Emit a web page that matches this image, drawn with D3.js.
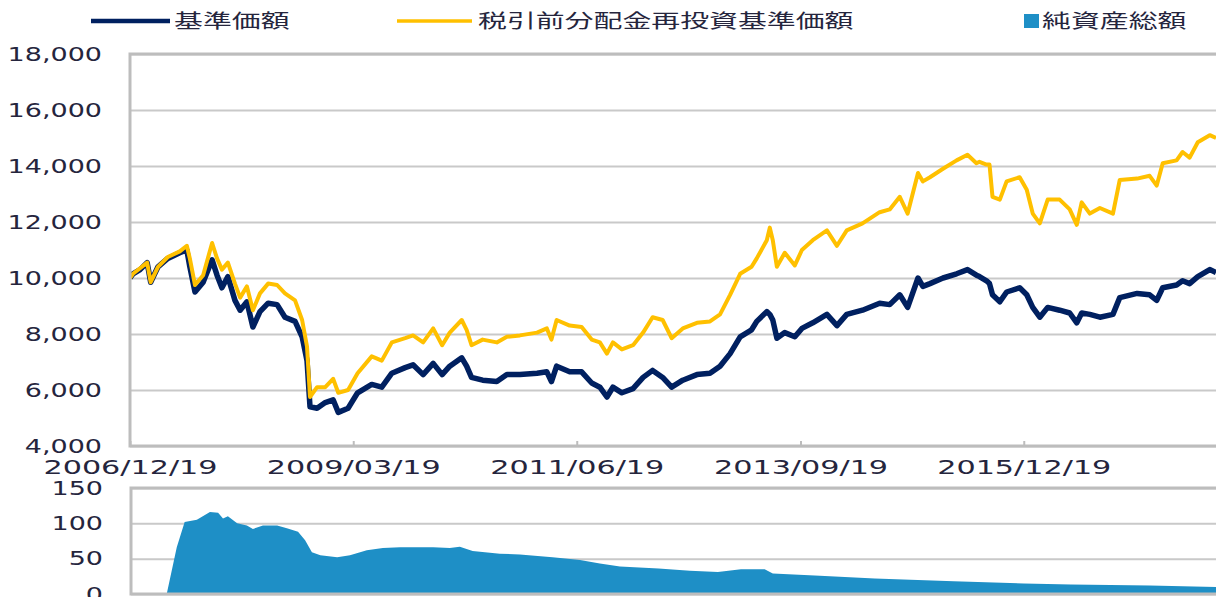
<!DOCTYPE html>
<html lang="ja">
<head>
<meta charset="UTF-8">
<title>基準価額・純資産総額の推移</title>
<style>
    body { margin: 0; background: #fff; }
    svg { display: block; font-family: 'DejaVu Sans', Verdana, sans-serif; }
    .legend text { font-family: 'Noto Sans CJK JP', sans-serif; }
</style>
</head>
<body>
<div id="chart"></div>
<script src="https://d3js.org/d3.v7.min.js"></script>
<script>
// 基準価額 / 税引前分配金再投資基準価額 (円)
const dates = [
    '2006/12/19','2006/12/30','2007/01/25','2007/02/20','2007/03/05','2007/04/01','2007/05/07','2007/06/20','2007/07/16','2007/07/27',
    '2007/08/15','2007/09/14','2007/10/17','2007/11/04','2007/11/22','2007/12/14','2008/01/09','2008/01/28','2008/02/22','2008/03/15',
    '2008/04/10','2008/05/10','2008/06/12','2008/07/11','2008/08/17','2008/09/12','2008/09/30','2008/10/11','2008/11/06','2008/12/06',
    '2009/01/04','2009/01/23','2009/02/28','2009/04/04','2009/05/26','2009/07/02','2009/08/08','2009/09/26','2009/10/25','2009/12/01',
    '2010/01/07','2010/02/09','2010/03/09','2010/04/22','2010/05/10','2010/05/28','2010/07/08','2010/08/29','2010/10/05','2010/11/22',
    '2011/01/24','2011/03/01','2011/03/18','2011/04/06','2011/05/24','2011/07/07','2011/08/13','2011/09/12','2011/10/08','2011/10/30',
    '2011/12/02','2012/01/12','2012/02/18','2012/03/24','2012/04/30','2012/06/02','2012/07/13','2012/09/03','2012/10/21','2012/11/27',
    '2013/01/03','2013/02/09','2013/03/23','2013/04/11','2013/05/18','2013/05/29','2013/06/09','2013/06/24','2013/07/23','2013/08/29',
    '2013/09/24','2013/11/03','2013/12/25','2014/01/31','2014/03/08','2014/05/05','2014/07/07','2014/08/13','2014/09/19','2014/10/18',
    '2014/11/25','2014/12/13','2015/01/08','2015/02/25','2015/04/16','2015/05/26','2015/06/28','2015/07/09','2015/08/04','2015/08/15',
    '2015/08/26','2015/09/22','2015/10/17','2015/12/04','2015/12/30','2016/01/21','2016/02/16','2016/03/16','2016/04/29','2016/06/05',
    '2016/07/01','2016/07/19','2016/08/18','2016/09/24','2016/11/11','2016/12/06','2017/02/08','2017/03/26','2017/04/21','2017/05/13',
    '2017/07/03','2017/07/25','2017/08/20','2017/09/19','2017/11/02','2017/11/25'
];
const navValues = [
    10000,10150,10300,10550,9850,10400,10700,10900,11000,10400,
    9500,9850,10650,10100,9650,10050,9200,8850,9150,8250,
    8800,9100,9050,8600,8450,7900,7050,5400,5350,5550,
    5650,5200,5350,5900,6200,6100,6600,6800,6900,6550,
    6950,6550,6850,7150,6850,6450,6350,6300,6550,6550,
    6600,6650,6300,6850,6650,6650,6250,6100,5750,6100,
    5900,6050,6450,6700,6450,6100,6350,6550,6600,6850,
    7300,7900,8150,8450,8800,8700,8500,7850,8050,7900,
    8200,8400,8700,8300,8700,8850,9100,9050,9400,8950,
    10000,9700,9800,10000,10150,10300,10100,10050,9900,9800,
    9400,9150,9500,9650,9400,8950,8600,8950,8850,8750,
    8400,8750,8700,8600,8700,9300,9450,9400,9200,9650,
    9750,9900,9800,10050,10300,10200
];
const reinvestValues = [
    10000,10150,10350,10550,9850,10400,10750,10950,11150,10700,
    9750,10100,11250,10700,10300,10550,9800,9300,9700,8850,
    9450,9800,9750,9450,9200,8500,7550,5750,6100,6100,
    6400,5900,6000,6600,7200,7050,7700,7850,7950,7700,
    8200,7600,8050,8500,8150,7600,7800,7700,7900,7950,
    8050,8200,7800,8500,8300,8250,7800,7700,7300,7700,
    7450,7600,8050,8600,8500,7850,8200,8400,8450,8700,
    9400,10150,10400,10700,11350,11800,11350,10400,10900,10450,
    11000,11350,11700,11150,11700,11950,12350,12450,12900,12300,
    13750,13450,13600,13900,14200,14400,14100,14150,14050,14050,
    12900,12800,13450,13600,13150,12300,11950,12800,12800,12450,
    11900,12700,12300,12500,12300,13500,13550,13650,13300,14100,
    14200,14500,14300,14850,15100,15000
];

// 純資産総額 (億円)
const assetDates = [
    '2007/05/03','2007/06/09','2007/07/08','2007/08/22','2007/10/09','2007/11/08','2007/11/26','2007/12/14','2008/01/17','2008/02/22',
    '2008/03/15','2008/04/21','2008/06/12','2008/07/18','2008/08/28','2008/09/23','2008/10/18','2008/11/18','2009/01/19','2009/03/07',
    '2009/05/08','2009/07/06','2009/09/07','2009/11/08','2010/01/07','2010/03/09','2010/04/15','2010/06/01','2010/09/09','2010/11/22',
    '2011/03/22','2011/07/01','2011/09/12','2011/11/25','2012/04/15','2012/08/08','2012/11/19','2013/02/12','2013/05/10','2013/06/09',
    '2013/11/29','2014/06/19','2015/04/05','2015/12/19','2016/06/09','2017/03/26','2017/11/25'
];
const assetValues = [
    0,66,102,105,116,115,107,110,100,97,
    92,97,97,93,88,76,59,55,52,55,
    62,65,66,66,66,65,67,61,57,56,
    52,48,43,39,36,33,31,35,35,29,
    26,22,18,15,13.5,12,10
];

const xTickLabels = ['2006/12/19', '2009/03/19', '2011/06/19', '2013/09/19', '2015/12/19'];
const priceTicks = [4000, 6000, 8000, 10000, 12000, 14000, 16000, 18000];
const assetTicks = [0, 50, 100, 150];
const seriesNames = ['基準価額', '税引前分配金再投資基準価額', '純資産総額'];
const xStart = '2006/12/19';
const xEnd = '2017/11/25';

{
    const width = 1216, height = 597;
    const colors = { nav: '#002060', reinvest: '#FFC000', asset: '#1E8FC6', grid: '#C9C9C9', frame: '#BDBDBD', text: '#25253D' };

    const svg = d3.select('#chart').append('svg').attr('width', width).attr('height', height);

    const parse = d3.timeParse('%Y/%m/%d');
    const fmt = d3.timeFormat('%Y/%m/%d');

    const top = { left: 130, right: 1219, top: 54, bottom: 446 };
    const bot = { left: 131, right: 1219, top: 488, bottom: 594 };

    const x = d3.scaleTime().domain([parse(xStart), parse(xEnd)]).range([top.left, width]);
    const yTop = d3.scaleLinear().domain([4000, 18000]).range([top.bottom, top.top]);
    const yBot = d3.scaleLinear().domain([0, 150]).range([bot.bottom, bot.top]);

    // 元画像は横に引き伸ばされているので、文字も横方向に伸ばす
    function stretch(sel, k) {
        sel.each(function () {
            const w = this.getComputedTextLength();
            d3.select(this).attr('textLength', w * k).attr('lengthAdjust', 'spacingAndGlyphs');
        });
    }

    svg.append('defs').append('clipPath').attr('id', 'clip-top')
        .append('rect').attr('x', top.left).attr('y', top.top).attr('width', width - top.left).attr('height', top.bottom - top.top);

    // 上段 グリッド
    svg.append('g').attr('transform', `translate(${top.left},0)`)
        .call(d3.axisLeft(yTop).tickValues(priceTicks).tickSize(-(top.right - top.left)).tickFormat(''))
        .call(g => g.select('.domain').remove())
        .call(g => g.selectAll('line').attr('stroke', colors.grid).attr('stroke-width', 2));

    // 上段 Y軸ラベル
    const yAxisTop = svg.append('g').attr('transform', `translate(${top.left},0)`)
        .call(d3.axisLeft(yTop).tickValues(priceTicks).tickFormat(d3.format(',')).tickSize(0).tickPadding(28));
    yAxisTop.select('.domain').remove();
    yAxisTop.attr('font-family', null);
    yAxisTop.selectAll('text').attr('font-size', 19).attr('fill', colors.text);

    // 下段 グリッド
    svg.append('g').attr('transform', `translate(${bot.left},0)`)
        .call(d3.axisLeft(yBot).tickValues(assetTicks).tickSize(-(bot.right - bot.left)).tickFormat(''))
        .call(g => g.select('.domain').remove())
        .call(g => g.selectAll('line').attr('stroke', colors.grid).attr('stroke-width', 2));

    const yAxisBot = svg.append('g').attr('transform', `translate(${bot.left},0)`)
        .call(d3.axisLeft(yBot).tickValues(assetTicks).tickSize(0).tickPadding(28));
    yAxisBot.select('.domain').remove();
    yAxisBot.attr('font-family', null);
    yAxisBot.selectAll('text').attr('font-size', 19).attr('fill', colors.text);

    // 純資産総額 エリア
    const assetData = assetDates.map((d, i) => ({ date: parse(d), value: assetValues[i] }));
    svg.append('path')
        .datum(assetData)
        .attr('fill', colors.asset)
        .attr('d', d3.area().x(d => x(d.date)).y0(yBot(0)).y1(d => yBot(d.value)));

    // 基準価額 ライン
    const lineData = dates.map((d, i) => ({ date: parse(d), nav: navValues[i], reinvest: reinvestValues[i] }));
    const lines = svg.append('g').attr('clip-path', 'url(#clip-top)');
    lines.append('path')
        .datum(lineData)
        .attr('fill', 'none')
        .attr('stroke', colors.nav)
        .attr('stroke-width', 5.5)
        .attr('stroke-linejoin', 'round')
        .attr('d', d3.line().x(d => x(d.date)).y(d => yTop(d.nav)));
    lines.append('path')
        .datum(lineData)
        .attr('fill', 'none')
        .attr('stroke', colors.reinvest)
        .attr('stroke-width', 4)
        .attr('stroke-linejoin', 'round')
        .attr('d', d3.line().x(d => x(d.date)).y(d => yTop(d.reinvest)));

    // 枠
    svg.append('rect').attr('x', top.left).attr('y', top.top)
        .attr('width', top.right - top.left).attr('height', top.bottom - top.top)
        .attr('fill', 'none').attr('stroke', colors.frame).attr('stroke-width', 3);
    svg.append('rect').attr('x', bot.left).attr('y', bot.top)
        .attr('width', bot.right - bot.left).attr('height', bot.bottom - bot.top)
        .attr('fill', 'none').attr('stroke', colors.frame).attr('stroke-width', 3);

    // X軸
    const xAxis = svg.append('g').attr('transform', `translate(0,${top.bottom})`)
        .call(d3.axisBottom(x).tickValues(xTickLabels.map(parse)).tickFormat(fmt).tickSize(-5).tickPadding(15));
    xAxis.select('.domain').remove();
    xAxis.attr('font-family', null);
    xAxis.selectAll('line').attr('stroke', colors.frame).attr('stroke-width', 2);
    xAxis.selectAll('text').attr('font-size', 19).attr('fill', colors.text);

    stretch(yAxisTop.selectAll('text'), 1.42);
    stretch(yAxisBot.selectAll('text'), 1.42);
    stretch(xAxis.selectAll('text'), 1.59);

    // 凡例
    const legend = svg.append('g').classed('legend', true);
    const legendY = 21;
    legend.append('line').attr('x1', 91).attr('x2', 170).attr('y1', legendY).attr('y2', legendY)
        .attr('stroke', colors.nav).attr('stroke-width', 4.5);
    legend.append('line').attr('x1', 397).attr('x2', 472).attr('y1', legendY).attr('y2', legendY)
        .attr('stroke', colors.reinvest).attr('stroke-width', 3.5);
    legend.append('rect').attr('x', 1024).attr('y', legendY - 7).attr('width', 15).attr('height', 14)
        .attr('fill', colors.asset);

    const legendText = legend.selectAll('text').data(seriesNames).enter().append('text')
        .attr('x', (d, i) => [174, 478, 1042][i])
        .attr('y', legendY)
        .attr('dy', '0.36em')
        .attr('font-size', 19)
        .attr('fill', colors.text)
        .text(d => d);
    stretch(legendText, 1.52);
}
</script>
</body>
</html>
